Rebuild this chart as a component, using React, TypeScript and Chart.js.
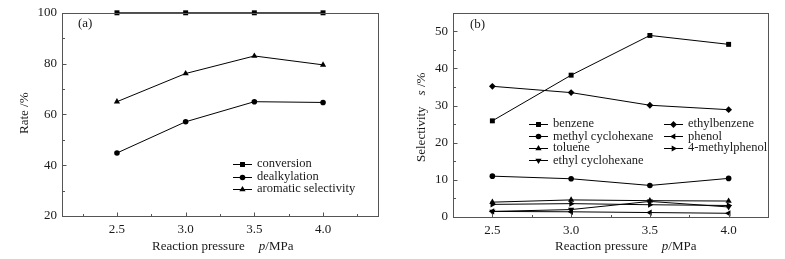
import React, { useEffect, useRef } from 'react';
import { Chart, registerables } from 'chart.js';
Chart.register(...registerables);

const pressures = [2.5, 3.0, 3.5, 4.0];
const xTickLabels = ['2.5', '3.0', '3.5', '4.0'];

// panel (a)
const conversion = [100, 100, 100, 100];
const dealkylation = [44.8, 57.1, 65.0, 64.7];
const aromaticSelectivity = [65.0, 76.1, 83.0, 79.5];
const yTicksA = [20, 40, 60, 80, 100];

// panel (b)
const benzene = [25.9, 38.2, 48.9, 46.5];
const methylCyclohexane = [11.0, 10.3, 8.5, 10.4];
const toluene = [4.0, 4.6, 4.4, 4.3];
const ethylCyclohexane = [1.5, 2.0, 4.2, 2.7];
const ethylbenzene = [35.2, 33.5, 30.1, 28.9];
const phenol = [1.5, 1.4, 1.2, 1.0];
const methylphenol = [3.4, 3.6, 3.3, 3.1];
const yTicksB = [0, 10, 20, 30, 40, 50];

const FONT = "'Liberation Serif', 'Times New Roman', serif";
const INK = '#1a1a1a';
const FRAME = '#555';

type Part = { text: string; italic?: boolean; gapBefore?: number };

function drawMarker(ctx: CanvasRenderingContext2D, style: string, rotation: number, x: number, y: number, r: number) {
  ctx.save();
  ctx.translate(x, y);
  ctx.rotate((rotation * Math.PI) / 180);
  ctx.beginPath();
  if (style === 'rect') {
    const s = r * Math.SQRT1_2;
    ctx.rect(-s, -s, 2 * s, 2 * s);
  } else if (style === 'circle') {
    ctx.arc(0, 0, r, 0, Math.PI * 2);
  } else if (style === 'triangle') {
    for (let i = 0; i < 3; i++) {
      const a = (i * 2 * Math.PI) / 3;
      const px = Math.sin(a) * r;
      const py = -Math.cos(a) * r;
      if (i === 0) ctx.moveTo(px, py);
      else ctx.lineTo(px, py);
    }
    ctx.closePath();
  } else if (style === 'rectRot') {
    ctx.moveTo(0, -r);
    ctx.lineTo(r, 0);
    ctx.lineTo(0, r);
    ctx.lineTo(-r, 0);
    ctx.closePath();
  }
  ctx.fillStyle = '#000';
  ctx.fill();
  ctx.restore();
}

function drawParts(ctx: CanvasRenderingContext2D, parts: Part[], size: number) {
  let x = 0;
  for (const p of parts) {
    x += p.gapBefore || 0;
    ctx.font = `${p.italic ? 'italic ' : ''}${size}px ${FONT}`;
    ctx.fillText(p.text, x, 0);
    x += ctx.measureText(p.text).width;
  }
}

type Decor = {
  xMinor: number[];
  yMinor: number[];
  xMajor: number[];
  yMajor: number[];
  panel: { text: string; x: number; y: number };
  xTitle: { x: number; y: number; parts: Part[] };
  yTitle: { x: number; y: number; parts: Part[] };
  legend: { x: number; y: number; idx: number }[];
};

const decorPlugin = {
  id: 'decor',
  afterDatasetsDraw(chart: any, _args: any, opts: Decor) {
    const ctx: CanvasRenderingContext2D = chart.ctx;
    const { left, right, top, bottom } = chart.chartArea;
    const xs = chart.scales.x;
    const ys = chart.scales.y;
    ctx.save();
    // frame
    ctx.strokeStyle = FRAME;
    ctx.lineWidth = 1;
    ctx.strokeRect(Math.round(left) + 0.5, Math.round(top) + 0.5, Math.round(right - left), Math.round(bottom - top));
    // ticks inward
    ctx.beginPath();
    const bx = Math.round(bottom) + 0.5;
    for (const v of opts.xMajor) {
      const px = Math.round(xs.getPixelForValue(v)) + 0.5;
      ctx.moveTo(px, bx);
      ctx.lineTo(px, bx - 4);
    }
    for (const v of opts.xMinor) {
      const px = Math.round(xs.getPixelForValue(v)) + 0.5;
      ctx.moveTo(px, bx);
      ctx.lineTo(px, bx - 2.5);
    }
    const lx = Math.round(left) + 0.5;
    for (const v of opts.yMajor) {
      const py = Math.round(ys.getPixelForValue(v)) + 0.5;
      ctx.moveTo(lx, py);
      ctx.lineTo(lx + 4, py);
    }
    for (const v of opts.yMinor) {
      const py = Math.round(ys.getPixelForValue(v)) + 0.5;
      ctx.moveTo(lx, py);
      ctx.lineTo(lx + 2.5, py);
    }
    ctx.stroke();

    ctx.fillStyle = INK;
    ctx.textBaseline = 'middle';
    ctx.textAlign = 'left';
    // panel label
    ctx.font = `13px ${FONT}`;
    ctx.fillText(opts.panel.text, opts.panel.x, opts.panel.y);
    // x title
    ctx.save();
    ctx.translate(opts.xTitle.x, opts.xTitle.y);
    drawParts(ctx, opts.xTitle.parts, 13);
    ctx.restore();
    // y title
    ctx.save();
    ctx.translate(opts.yTitle.x, opts.yTitle.y);
    ctx.rotate(-Math.PI / 2);
    drawParts(ctx, opts.yTitle.parts, 13);
    ctx.restore();
    // legend
    ctx.font = `12.5px ${FONT}`;
    for (const item of opts.legend) {
      const ds = chart.data.datasets[item.idx];
      ctx.strokeStyle = '#000';
      ctx.lineWidth = 1;
      ctx.beginPath();
      ctx.moveTo(item.x, Math.round(item.y) + 0.5);
      ctx.lineTo(item.x + 19, Math.round(item.y) + 0.5);
      ctx.stroke();
      drawMarker(ctx, ds.pointStyle, ds.pointRotation || 0, item.x + 9.5, Math.round(item.y) + 0.5, ds.pointRadius);
      ctx.fillStyle = INK;
      ctx.fillText(ds.label, item.x + 24, item.y);
    }
    ctx.restore();
  },
};

function mkDataset(label: string, values: number[], pointStyle: string, pointRadius: number, pointRotation = 0) {
  return {
    label,
    data: pressures.map((p, i) => ({ x: p, y: values[i] })),
    borderColor: '#000',
    backgroundColor: '#000',
    borderWidth: 1,
    pointStyle,
    pointRadius,
    pointRotation,
    pointBorderWidth: 0,
    pointBackgroundColor: '#000',
    clip: false,
    tension: 0,
  };
}

function makeConfig(
  datasets: any[],
  xMin: number,
  xMax: number,
  yMin: number,
  yMax: number,
  yTicks: number[],
  yWidth: number,
  xHeight: number,
  padding: any,
  decor: Decor
) {
  return {
    type: 'line',
    data: { datasets },
    options: {
      animation: false,
      responsive: false,
      maintainAspectRatio: false,
      layout: { padding },
      plugins: { legend: { display: false }, tooltip: { enabled: false }, decor },
      scales: {
        x: {
          type: 'linear',
          min: xMin,
          max: xMax,
          afterBuildTicks: (s: any) => {
            s.ticks = pressures.map((v) => ({ value: v }));
          },
          afterFit: (s: any) => {
            s.height = xHeight;
          },
          grid: { display: false, drawTicks: false },
          border: { display: false },
          ticks: {
            padding: 6,
            color: INK,
            font: { family: FONT, size: 13 },
            maxRotation: 0,
            autoSkip: false,
            callback: (v: any) => {
              const i = pressures.indexOf(Number(v));
              return i >= 0 ? xTickLabels[i] : '';
            },
          },
        },
        y: {
          type: 'linear',
          min: yMin,
          max: yMax,
          afterBuildTicks: (s: any) => {
            s.ticks = yTicks.map((v) => ({ value: v }));
          },
          afterFit: (s: any) => {
            s.width = yWidth;
          },
          grid: { display: false, drawTicks: false },
          border: { display: false },
          ticks: {
            padding: 5,
            color: INK,
            font: { family: FONT, size: 13 },
            autoSkip: false,
            callback: (v: any) => String(v),
          },
        },
      },
    },
    plugins: [decorPlugin],
  } as any;
}

function ChartCanvas({ config, width, height, left }: { config: any; width: number; height: number; left: number }) {
  const ref = useRef<HTMLCanvasElement>(null);
  useEffect(() => {
    if (!ref.current) return;
    const chart = new Chart(ref.current, config);
    return () => chart.destroy();
  }, [config]);
  return (
    <div style={{ position: 'absolute', left, top: 0, width, height }}>
      <canvas ref={ref} width={width} height={height} style={{ width, height, display: 'block' }} />
    </div>
  );
}

const configA = makeConfig(
  [
    mkDataset('conversion', conversion, 'rect', 3.5),
    mkDataset('dealkylation', dealkylation, 'circle', 2.8),
    mkDataset('aromatic selectivity', aromaticSelectivity, 'triangle', 3.6),
  ],
  2.1,
  4.4,
  20,
  100,
  yTicksA,
  62,
  43,
  { top: 9, right: 22, left: 0, bottom: 0 },
  {
    xMajor: pressures,
    xMinor: [2.25, 2.75, 3.25, 3.75, 4.25],
    yMajor: yTicksA,
    yMinor: [30, 50, 70, 90],
    panel: { text: '(a)', x: 78, y: 24 },
    xTitle: {
      x: 152,
      y: 247,
      parts: [{ text: 'Reaction pressure' }, { text: 'p', italic: true, gapBefore: 14 }, { text: '/MPa' }],
    },
    yTitle: { x: 25, y: 134, parts: [{ text: 'Rate /%' }] },
    legend: [
      { x: 233, y: 164, idx: 0 },
      { x: 233, y: 176.5, idx: 1 },
      { x: 233, y: 188.5, idx: 2 },
    ],
  }
);

const configB = makeConfig(
  [
    mkDataset('benzene', benzene, 'rect', 3.5),
    mkDataset('methyl cyclohexane', methylCyclohexane, 'circle', 2.8),
    mkDataset('toluene', toluene, 'triangle', 3.6),
    mkDataset('ethyl cyclohexane', ethylCyclohexane, 'triangle', 3.6, 180),
    mkDataset('ethylbenzene', ethylbenzene, 'rectRot', 3.4),
    mkDataset('phenol', phenol, 'triangle', 3.6, -90),
    mkDataset('4-methylphenol', methylphenol, 'triangle', 3.6, 90),
  ],
  2.25,
  4.25,
  0,
  55,
  yTicksB,
  53,
  42,
  { top: 7, right: 17, left: 0, bottom: 0 },
  {
    xMajor: pressures,
    xMinor: [2.75, 3.25, 3.75],
    yMajor: yTicksB,
    yMinor: [5, 15, 25, 35, 45],
    panel: { text: '(b)', x: 70, y: 25 },
    xTitle: {
      x: 155,
      y: 247,
      parts: [{ text: 'Reaction pressure' }, { text: 'p', italic: true, gapBefore: 14 }, { text: '/MPa' }],
    },
    yTitle: {
      x: 22,
      y: 162,
      parts: [{ text: 'Selectivity' }, { text: 's', italic: true, gapBefore: 11 }, { text: ' /%' }],
    },
    legend: [
      { x: 129, y: 124, idx: 0 },
      { x: 129, y: 136.3, idx: 1 },
      { x: 129, y: 148, idx: 2 },
      { x: 129, y: 160.3, idx: 3 },
      { x: 264, y: 124, idx: 4 },
      { x: 264, y: 136.3, idx: 5 },
      { x: 264, y: 148, idx: 6 },
    ],
  }
);

export default function App() {
  return (
    <div style={{ position: 'absolute', left: 0, top: 0, width: 785, height: 259, background: '#fff', overflow: 'hidden' }}>
      <ChartCanvas config={configA} width={400} height={259} left={0} />
      <ChartCanvas config={configB} width={385} height={259} left={400} />
    </div>
  );
}
